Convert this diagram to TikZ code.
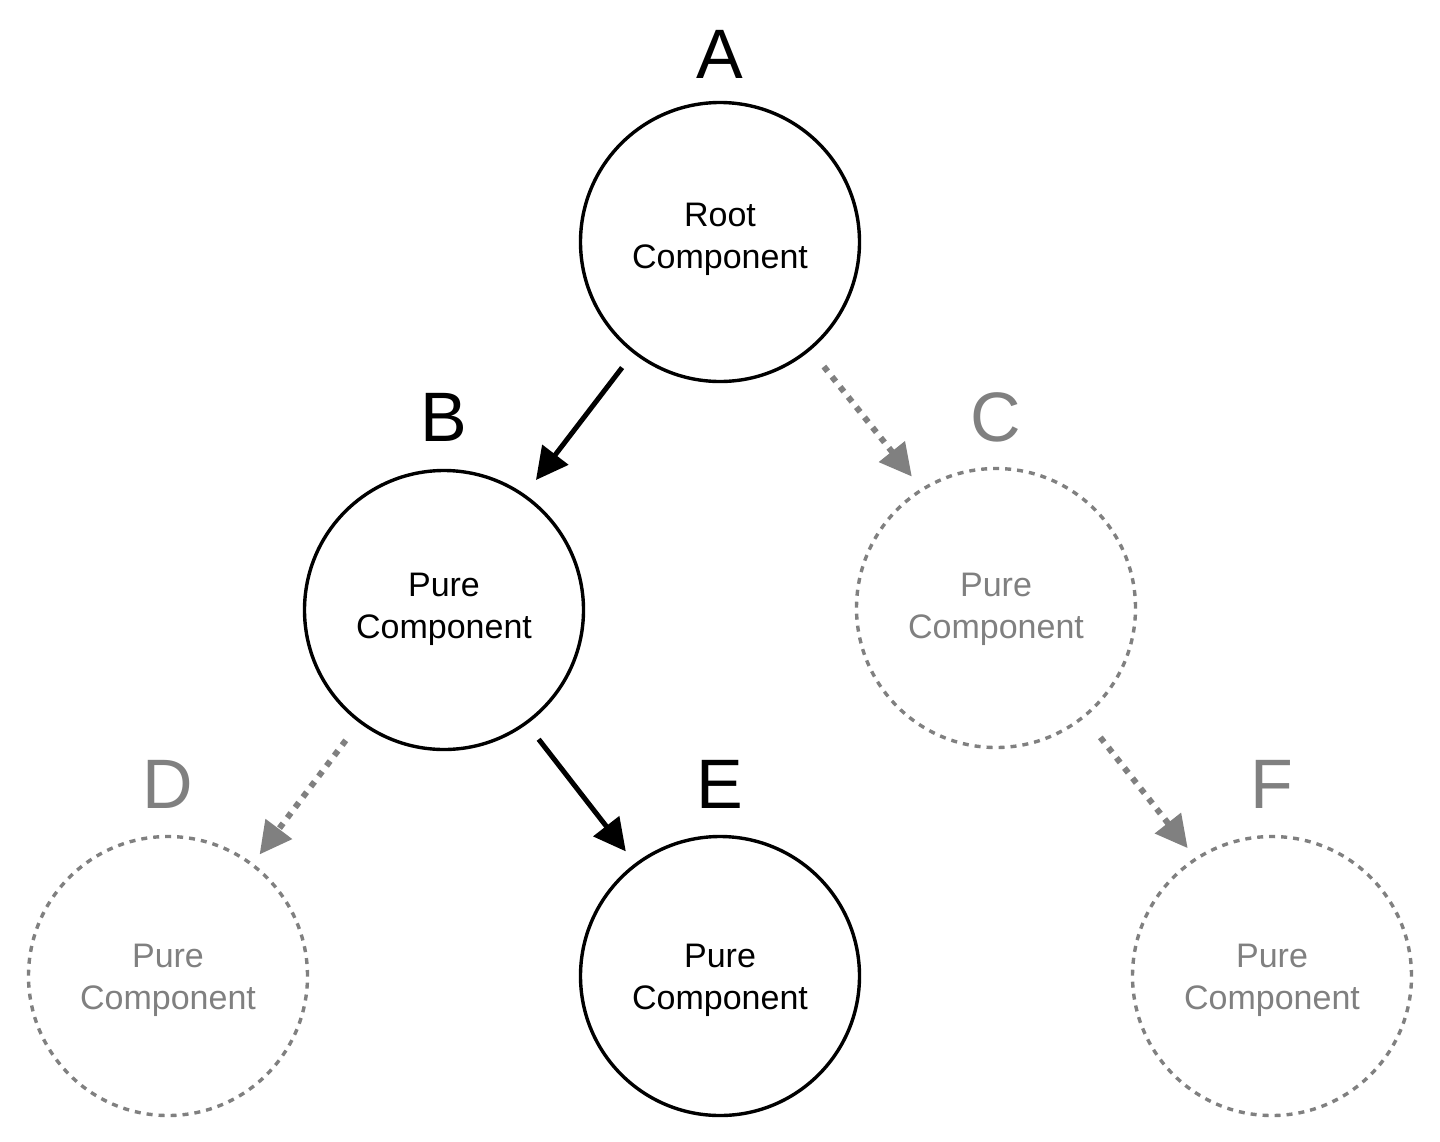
\documentclass[tikz,border=0pt]{standalone}
\usepackage{fontspec}
\setmainfont{Liberation Sans}
\usetikzlibrary{arrows.meta}
\definecolor{gry}{RGB}{128,128,128}
\begin{document}
\begin{tikzpicture}[x=1pt,y=-1pt,
 comp/.style={circle,draw=black,line width=3.4pt,minimum size=279pt,inner sep=0pt},
 ghost/.style={comp,draw=gry,dash pattern=on 6pt off 6pt},
 ctxt/.style={font=\fontsize{34}{42}\selectfont,align=center,text=black,inner sep=0pt},
 gtxt/.style={ctxt,text=gry},
 letter/.style={font=\fontsize{70}{70}\selectfont,anchor=base,inner sep=0pt},
 ghostletter/.style={letter,text=gry},
 solidarr/.style={draw=black,line width=5pt,-{Triangle[length=32pt,width=32pt]}},
 ghostarr/.style={draw=gry,line width=6pt,dash pattern=on 6pt off 7pt,
   -{Triangle[length=32pt,width=32pt,fill=gry]}}
]
\useasboundingbox (0,0) rectangle (1440,1141);
\fill[white] (0,0) rectangle (1440,1141);

\node[comp,  label={[ctxt,yshift=3pt]center:Root\\Component}]  (A) at (720,242) {};
\node[comp,  label={[ctxt,yshift=1pt]center:Pure\\Component}]  (B) at (444,610) {};
\node[ghost, label={[gtxt,yshift=-1pt]center:Pure\\Component}] (C) at (996,608) {};
\node[ghost, label={[gtxt,yshift=-4pt]center:Pure\\Component}] (D) at (168,976) {};
\node[comp,  label={[ctxt,yshift=-4pt]center:Pure\\Component}] (E) at (720,976) {};
\node[ghost, label={[gtxt,yshift=-4pt]center:Pure\\Component}] (F) at (1272,976) {};

\node[letter]      (la) at (720,78)  {A};
\node[letter]      (lb) at (444,441) {B};
\node[ghostletter] (lc) at (996,441) {C};
\node[ghostletter] (ld) at (168,808) {D};
\node[letter]      (le) at (720,808) {E};
\node[ghostletter] (lf) at (1272,808) {F};

\draw[solidarr, shorten <=18pt, shorten >=18pt] (A.232) -- (B.55);
\draw[ghostarr, shorten <=21pt, shorten >=15pt] (A.310.5) -- (C.122.2);
\draw[ghostarr, shorten <=22pt, shorten >=11pt] (B.233) -- (D.53.8);
\draw[solidarr, shorten <=19pt, shorten >=15pt] (B.306.1) -- (E.127.2);
\draw[ghostarr, shorten <=25pt, shorten >=12pt] (C.309.6) -- (F.123.3);
\end{tikzpicture}
\end{document}
